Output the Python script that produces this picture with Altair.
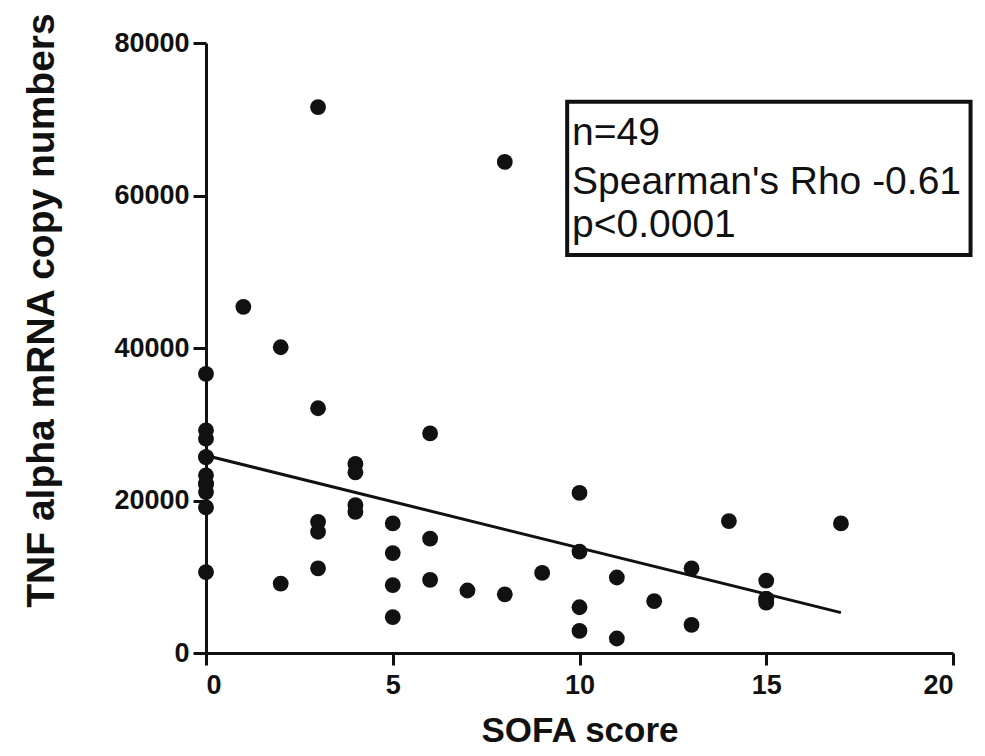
import altair as alt
import pandas as pd

# ---- data ----
sofa = [0, 0, 0, 0, 0, 0, 0, 0, 0, 0, 0,
        1,
        2, 2,
        3, 3, 3, 3, 3,
        4, 4, 4, 4,
        5, 5, 5, 5,
        6, 6, 6,
        7,
        8, 8,
        9,
        10, 10, 10, 10,
        11, 11,
        12,
        13, 13,
        14,
        15, 15, 15, 15,
        17]
tnf = [36600, 29200, 28100, 25700, 25700, 23300, 22200, 22200, 21100, 19100, 10600,
       45400,
       40100, 9100,
       71600, 32100, 17200, 15900, 11100,
       24800, 23700, 19400, 18500,
       17000, 13100, 8900, 4700,
       28800, 15000, 9600,
       8200,
       64400, 7700,
       10500,
       21000, 13300, 6000, 2900,
       9900, 1900,
       6800,
       11100, 3700,
       17300,
       9500, 7100, 7100, 6600,
       17000]

fit_x = [0, 17]
fit_y = [25900, 5300]

box_x = [9.67]
box_x2 = [20.47]
box_y = [52200]
box_y2 = [72300]

stat_lines = ["n=49", "Spearman's Rho -0.61", "p<0.0001"]
stat_x = [9.8, 9.8, 9.8]
stat_y = [66600, 60250, 54600]

x_ticks = [0, 5, 10, 15, 20]
y_ticks = [0, 20000, 40000, 60000, 80000]

df = pd.DataFrame({"sofa": sofa, "tnf": tnf})
df_fit = pd.DataFrame({"sofa": fit_x, "tnf": fit_y})
df_box = pd.DataFrame({"x": box_x, "x2": box_x2, "y": box_y, "y2": box_y2})
df_txt = pd.DataFrame({"x": stat_x, "y": stat_y, "t": stat_lines})

FONT = "Liberation Sans"

xscale = alt.Scale(domain=[0, 20], nice=False, zero=False)
yscale = alt.Scale(domain=[0, 80000], nice=False)

xaxis = alt.Axis(values=x_ticks, title="SOFA score", format="d",
                 labelFont=FONT, labelFontWeight="bold", labelFontSize=27,
                 labelPadding=7, tickSize=12,
                 titleFont=FONT, titleFontWeight="bold", titleFontSize=35,
                 titlePadding=15)
yaxis = alt.Axis(values=y_ticks, title="TNF alpha mRNA copy numbers", format="d",
                 labelFont=FONT, labelFontWeight="bold", labelFontSize=27,
                 labelPadding=4, tickSize=13,
                 titleFont=FONT, titleFontWeight="bold", titleFontSize=39,
                 titlePadding=52, titleY=267, titleAnchor="middle")

points = alt.Chart(df).mark_circle(size=250, color="#111111", opacity=1).encode(
    x=alt.X("sofa:Q", scale=xscale, axis=xaxis),
    y=alt.Y("tnf:Q", scale=yscale, axis=yaxis),
)

fit = alt.Chart(df_fit).mark_line(color="#111111", strokeWidth=3).encode(
    x=alt.X("sofa:Q", scale=xscale),
    y=alt.Y("tnf:Q", scale=yscale),
)

box = alt.Chart(df_box).mark_rect(fill="white", fillOpacity=0, stroke="#111111",
                                  strokeWidth=4).encode(
    x=alt.X("x:Q", scale=xscale), x2="x2:Q",
    y=alt.Y("y:Q", scale=yscale), y2="y2:Q",
)

txt = alt.Chart(df_txt).mark_text(align="left", baseline="alphabetic", font=FONT,
                                  fontSize=39, color="#111111").encode(
    x=alt.X("x:Q", scale=xscale),
    y=alt.Y("y:Q", scale=yscale),
    text="t:N",
)

chart = alt.layer(points, fit, box, txt).properties(
    width=747, height=610,
    autosize=alt.AutoSizeParams(type="none"),
    padding={"left": 198, "top": 35, "right": 24, "bottom": 102},
).configure_view(stroke=None).configure_axis(
    grid=False, domainColor="#111111", domainWidth=3, tickColor="#111111",
    tickWidth=3, labelColor="#111111", titleColor="#111111",
)

chart.save("out.html", embed_options={"renderer": "svg", "actions": False})
